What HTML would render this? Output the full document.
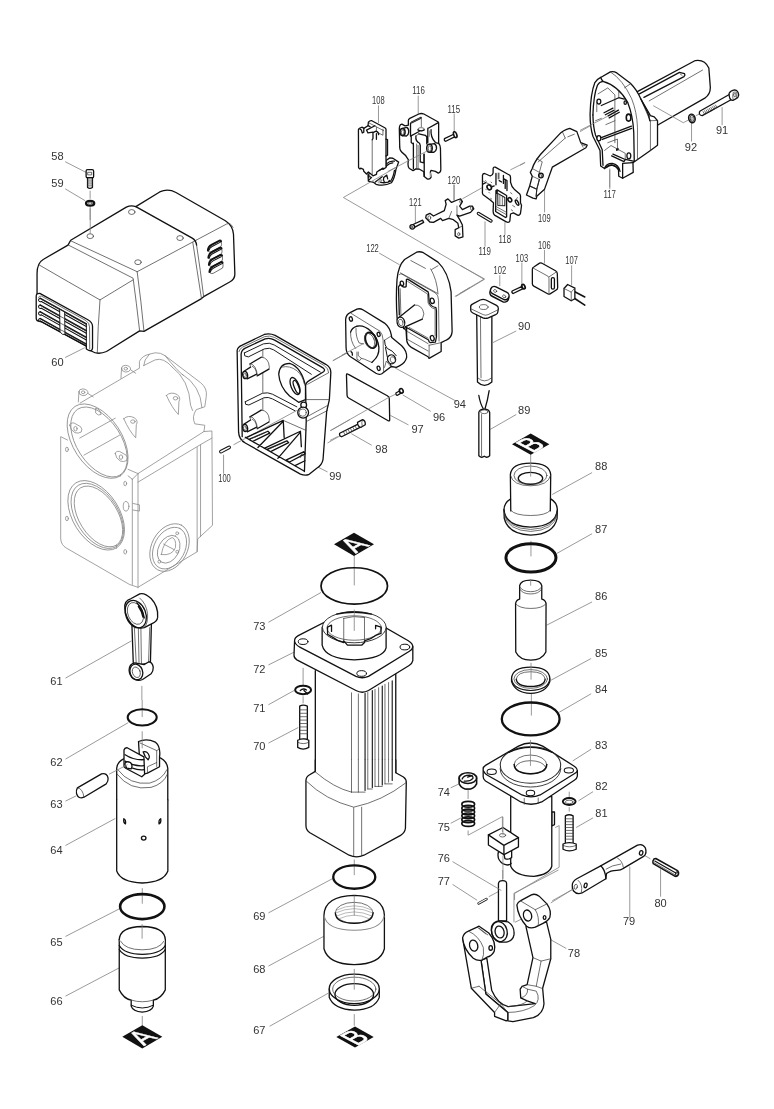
<!DOCTYPE html>
<html><head><meta charset="utf-8"><title>Parts diagram</title>
<style>
html,body{margin:0;padding:0;background:#fff}
svg{display:block;filter:grayscale(1)}
text{font-family:"Liberation Sans",sans-serif;font-size:10.4px;fill:#333}
.h{fill:none;stroke:#111;stroke-linecap:round;stroke-linejoin:round}
.hf{fill:#fff;stroke:#111;stroke-linecap:round;stroke-linejoin:round}
.t{fill:none;stroke:#333;stroke-linecap:round;stroke-linejoin:round}
.tf{fill:#fff;stroke:#333;stroke-linecap:round;stroke-linejoin:round}
.l{fill:none;stroke:#808080}
.p{fill:none;stroke:#8a8a8a;stroke-linecap:round;stroke-linejoin:round}
.pf{fill:#fff;stroke:#8a8a8a;stroke-linecap:round;stroke-linejoin:round}
.k{fill:#111;stroke:none}
</style></head><body>
<svg width="774" height="1109" viewBox="0 0 774 1109">
<rect width="774" height="1109" fill="#fff"/>
<!-- 02_housing.svg -->
<g transform="translate(30,340) scale(0.28424)">
<g class="p" stroke-width="2.815">
<!-- back block -->
<path d="M385,97 L385,75 Q395,55 420,50 L440,45 Q460,44 475,55 L600,150 Q625,170 620,200 L615,235 L585,245 Q568,270 580,295 L615,300 L612,322"/>
<path d="M500,95 Q560,140 565,230 L572,248 M535,120 Q600,160 605,238 M420,50 Q400,70 400,90 M475,55 Q520,110 540,125"/>
<!-- barrel -->
<path d="M176,222 L385,99 M400,90 L440,70 Q470,60 500,95"/>
<ellipse cx="238" cy="356" rx="146" ry="86" transform="rotate(57 238 356)"/>
<ellipse cx="243" cy="359" rx="138" ry="78" transform="rotate(57 243 359)"/>
<path d="M175,345 L300,275 M190,405 L315,335 M345,455 L380,470"/>
<!-- box -->
<path d="M132,352 L108,340 L108,700 Q110,722 128,732 L350,860 L380,870 L588,745 L590,700 L642,652 L640,320 L612,322 L380,470 L360,490"/>
<path d="M360,490 L360,860 M380,470 L380,872 M362,575 L385,580 L385,602 L362,598 M345,478 L360,490"/>
<path d="M380,500 L600,368 L600,692 M588,378 L588,745 M600,368 L640,345"/>
<!-- left opening -->
<ellipse cx="233" cy="617" rx="135" ry="82" transform="rotate(58 233 617)"/>
<ellipse cx="237" cy="619" rx="127" ry="75" transform="rotate(58 237 619)"/>
<ellipse cx="241" cy="621" rx="119" ry="68" transform="rotate(58 241 621)"/>
<!-- right round -->
<ellipse cx="491" cy="730" rx="89" ry="63" transform="rotate(-62 491 730)"/>
<ellipse cx="491" cy="732" rx="78" ry="54" transform="rotate(-62 491 732)"/>
<ellipse cx="488" cy="736" rx="52" ry="36" transform="rotate(-62 488 736)"/>
<path d="M462,755 Q470,705 500,695 Q515,700 512,730 Q500,760 462,755Z M470,718 L508,738"/>
<circle cx="518" cy="680" r="5"/><circle cx="518" cy="745" r="5"/><circle cx="455" cy="780" r="5"/>
<!-- small holes -->
<ellipse cx="130" cy="385" rx="5" ry="8"/><ellipse cx="130" cy="628" rx="5" ry="8"/><ellipse cx="335" cy="505" rx="5" ry="8"/><ellipse cx="335" cy="745" rx="5" ry="8"/><ellipse cx="338" cy="585" rx="10" ry="17"/>
<!-- lugs -->
<g id="lugA"><path d="M172,182 Q172,172 186,172 Q204,174 204,186 Q200,196 186,196 Q172,194 172,182Z M172,184 L170,218 M204,188 L222,200"/><ellipse cx="187" cy="184" rx="6" ry="5"/></g>
<use href="#lugA" x="150" y="-83"/>
<g id="lugB"><path d="M480,195 Q495,180 518,192 Q532,204 524,216 L522,262 Q500,240 480,195Z"/><ellipse cx="512" cy="205" rx="8" ry="6"/></g>
<use href="#lugB" x="-150" y="82"/>
<path d="M140,300 Q140,290 155,292 L178,305 Q186,314 180,324 Q170,330 158,326 Q142,318 140,300Z"/><ellipse cx="160" cy="312" rx="6" ry="8"/>
<path d="M300,400 Q300,390 315,392 L338,405 Q346,414 340,424 Q330,430 318,426 Q302,418 300,400Z"/><ellipse cx="320" cy="412" rx="6" ry="8"/>
<path d="M232,240 Q248,244 250,262 Q240,268 232,258Z"/>
</g>
</g>
<!-- 05_screw58.svg -->
<g transform="translate(40,140) scale(0.12920)">
<path class="l" stroke-width="6.192" d="M195,168 L355,250"/>
<path class="l" stroke-width="6.192" d="M195,378 L350,470"/>
<path class="l" stroke-width="6.192" d="M388,392 L388,455"/>
<path class="l" stroke-width="6.192" d="M388,515 L388,619"/>
<!-- screw -->
<path class="hf" stroke-width="10.062" d="M368,288 L368,368 Q386,380 406,368 L406,288Z"/>
<path class="t" stroke-width="5.418" d="M368,310 L406,310 M368,325 L406,325 M368,340 L406,340 M368,355 L406,355"/>
<path class="hf" stroke-width="10.062" d="M357,240 Q357,230 368,230 L404,230 Q415,230 415,240 L415,282 Q415,292 404,292 L368,292 Q357,292 357,282Z"/>
<path class="t" stroke-width="5.418" d="M372,250 L400,250 L400,270 L372,270Z"/>
<!-- washer -->
<ellipse cx="388" cy="490" rx="32" ry="19" fill="#fff" stroke="#111" stroke-width="17.028"/>
<ellipse class="t" stroke-width="5.418" cx="388" cy="489" rx="16" ry="8"/>
</g>
<!-- 10_cover.svg -->
<g transform="translate(30,180) scale(0.27132)">
<!-- centre line from washer to rivet hole -->
<!-- outer silhouette -->
<path class="hf" stroke-width="4.791" d="M26,345 Q26,305 50,292 L140,240 L150,222 L355,100 Q372,92 390,98 L478,44 Q508,30 538,46 L720,150 Q748,168 750,200 L755,345 Q756,366 736,376 L640,430 L632,437 L420,558 L404,556 L282,632 Q250,646 226,630 L214,620 L212,610 L26,510 Z"/>
<!-- inner edges -->
<path class="t" stroke-width="2.580" d="M32,312 Q140,375 258,442 L380,368"/>
<path class="t" stroke-width="2.580" d="M258,442 Q250,540 248,640"/>
<path class="t" stroke-width="2.580" d="M142,240 L380,362 Q392,450 404,556"/>
<path class="t" stroke-width="2.580" d="M150,224 L395,338 Q410,450 420,557"/>
<path class="t" stroke-width="2.580" d="M395,338 L612,222"/>
<path class="h" stroke-width="4.791" d="M390,98 L598,214 Q612,222 614,240"/>
<path class="t" stroke-width="2.580" d="M614,240 Q628,330 640,430"/>
<path class="t" stroke-width="2.580" d="M600,230 Q616,335 632,437"/>
<path class="t" stroke-width="2.580" d="M612,222 L725,162 Q740,156 748,175"/>
<!-- rivets -->
<ellipse class="tf" stroke-width="2.580" cx="375" cy="118" rx="12" ry="9"/>
<ellipse class="tf" stroke-width="2.580" cx="222" cy="207" rx="12" ry="9"/>
<ellipse class="tf" stroke-width="2.580" cx="553" cy="214" rx="12" ry="9"/>
<ellipse class="tf" stroke-width="2.580" cx="398" cy="303" rx="12" ry="9"/>
<path class="l" stroke-width="2.949" d="M222,105 L222,200"/>
</g>
<!-- 11_louvers.svg -->
<g transform="translate(190,225) scale(0.06460)">
<g transform="translate(462,245)">
<path d="M-185,150 Q-180,85 -130,62 L-5,-3 Q15,-8 18,10" fill="none" stroke="#111" stroke-width="30.960" stroke-linecap="round"/>
<path class="h" d="M-172,152 Q-160,108 -120,88 L2,24" stroke-width="15.480"/>
<path class="t" stroke-width="10.836" d="M-180,162 Q-160,180 -130,172 L18,88 Q32,62 24,28"/>
</g>
<g transform="translate(470,356)">
<path d="M-185,150 Q-180,85 -130,62 L-5,-3 Q15,-8 18,10" fill="none" stroke="#111" stroke-width="30.960" stroke-linecap="round"/>
<path class="h" d="M-172,152 Q-160,108 -120,88 L2,24" stroke-width="15.480"/>
<path class="t" stroke-width="10.836" d="M-180,162 Q-160,180 -130,172 L18,88 Q32,62 24,28"/>
</g>
<g transform="translate(478,467)">
<path d="M-185,150 Q-180,85 -130,62 L-5,-3 Q15,-8 18,10" fill="none" stroke="#111" stroke-width="30.960" stroke-linecap="round"/>
<path class="h" d="M-172,152 Q-160,108 -120,88 L2,24" stroke-width="15.480"/>
<path class="t" stroke-width="10.836" d="M-180,162 Q-160,180 -130,172 L18,88 Q32,62 24,28"/>
</g>
<g transform="translate(486,578)">
<path d="M-185,150 Q-180,85 -130,62 L-5,-3 Q15,-8 18,10" fill="none" stroke="#111" stroke-width="30.960" stroke-linecap="round"/>
<path class="h" d="M-172,152 Q-160,108 -120,88 L2,24" stroke-width="15.480"/>
<path class="t" stroke-width="10.836" d="M-180,162 Q-160,180 -130,172 L18,88 Q32,62 24,28"/>
</g>
</g>
<!-- 12_grille.svg -->
<g transform="translate(30,280) scale(0.10336)">
<path class="l" stroke-width="7.740" d="M340,750 L530,655"/>
<path class="hf" stroke-width="12.578" d="M60,160 Q58,128 95,130 L560,385 Q605,410 605,450 L605,660 Q600,692 570,682 L545,668 L545,640 L100,398 Q60,402 60,370Z"/>
<path class="t" stroke-width="6.772" d="M82,172 Q84,150 112,156 L540,392 Q576,416 576,452 L578,668"/>
<g fill="none" stroke="#111" stroke-linecap="round" stroke-width="14.513">
<path d="M100,178 L545,425 M100,243 L545,490 M100,308 L545,555 M100,373 L545,620"/>
</g>
<g class="h" stroke-width="9.675">
<path d="M110,208 L545,450 M110,273 L545,515 M110,338 L545,580 M100,398 L545,640"/>
<path d="M100,178 Q78,182 84,200 Q90,214 110,208 M100,243 Q78,247 84,265 Q90,279 110,273 M100,308 Q78,312 84,330 Q90,344 110,338 M100,373 Q78,377 84,395 Q90,409 110,403"/>
<path d="M545,425 L545,640"/>
</g>
<path class="t" stroke-width="6.772" d="M120,192 L540,428 M120,257 L540,493 M120,322 L540,558 M120,387 L540,623"/>
<path class="hf" d="M290,285 L335,310 L338,528 Q315,535 292,505Z" stroke-width="8.708"/>
<path class="t" stroke-width="6.772" d="M290,350 L336,375 M290,415 L336,440 M291,480 L337,502"/>
</g>
<!-- 20_switch.svg -->
<g transform="translate(350,110) scale(0.07660)">
<path class="l" stroke-width="10.444" d="M372,-60 L372,170"/>
<!-- lever -->
<path class="hf" stroke-width="16.971" d="M470,660 L520,625 L560,630 L635,680 L600,775 Q580,900 540,950 Q450,1000 340,970 L310,945 L240,930 L235,840 L470,740Z"/>
<path class="h" stroke-width="16.971" d="M480,700 Q520,660 580,668 M470,735 Q520,690 560,690 M580,790 Q565,880 530,930 Q460,960 400,945 M440,880 L480,850 L492,900 M440,880 Q430,920 450,945 M330,940 L420,870 M500,940 L515,920"/>
<path class="t" stroke-width="9.138" d="M350,930 L380,900 M370,945 L405,905 M385,955 L420,915"/>
<path class="k" d="M235,840 L292,880 L240,930Z"/>
<path d="M262,868 L250,900" stroke="#fff" stroke-width="10.444" fill="none"/>
<!-- body -->
<path class="hf" stroke-width="16.971" d="M110,255 Q115,235 135,232 L160,225 L180,240 L235,205 L240,160 Q260,135 285,140 L460,235 L470,250 L470,750 L430,775 L430,760 L380,790 L350,810 L345,840 L300,860 L290,850 L240,810 L215,835 L180,800 L175,775 L140,760 L130,770 L112,755Z"/>
<path class="t" stroke-width="9.138" d="M290,390 L290,850 M345,225 L345,285 L430,330 L430,250 M250,170 L440,270"/>
<path class="h" stroke-width="16.971" d="M180,240 L180,290 L160,300 M215,262 L325,205 M235,205 L262,216 M300,295 L340,275 Q370,280 375,322 M300,290 L300,372 L290,388 M345,310 L345,382 M215,262 L235,300 L300,290 M130,250 Q150,250 160,300 M380,790 L430,760"/>
<path class="h" stroke-width="16.971" d="M470,380 L490,386 L490,590 L470,600"/>
</g>
<!-- 21_bracket116.svg -->
<g transform="translate(395,105) scale(0.07214)">
<path class="l" stroke-width="11.089" d="M322,-130 L322,125"/>
<path class="hf" stroke-width="18.019" d="M185,215 Q185,195 205,185 L330,125 Q365,110 400,125 L600,235 L605,250 L605,530 Q630,560 630,600 L635,880 Q640,930 600,945 L560,920 L500,905 L490,930 L500,1000 Q480,1040 440,1020 L405,990 L400,925 L340,890 L290,885 L250,910 L200,880 Q180,860 180,820 L185,760 Q150,690 90,650 Q60,620 65,560 L60,330 Q60,270 95,265 L140,290 L185,280Z"/>
<path d="M222,238 L360,168 L364,184 L228,252Z" fill="#999" stroke="#111" stroke-width="12.475"/>
<path class="h" stroke-width="18.019" d="M215,250 L215,432 L335,368 M455,325 L600,245 M455,325 L455,520 M290,430 Q280,500 340,530 L350,560 L350,790 L400,802 L400,680 M330,400 L420,420 L440,440 L440,540 M255,530 L255,880 M405,680 L405,990 M500,340 Q490,450 560,520 L605,532 M225,440 L225,520 L255,545"/>
<path class="t" stroke-width="9.703" d="M300,540 L300,882 M365,170 L365,300 M330,400 L290,430 M320,560 L320,885"/>
<path d="M475,352 L475,440 M490,935 L492,1000" stroke="#999" stroke-width="19.405" fill="none"/>
<ellipse cx="362" cy="336" rx="45" ry="22" fill="#fff" stroke="#333" stroke-width="9.703"/>
<path class="h" stroke-width="18.019" d="M318,345 Q360,372 405,345"/>
<!-- left boss -->
<path class="hf" stroke-width="18.019" d="M105,325 L165,310 Q195,330 190,380 Q185,420 160,430 L105,425Z"/>
<ellipse class="hf" cx="105" cy="375" rx="35" ry="50" stroke-width="20.792"/>
<ellipse class="t" stroke-width="9.703" cx="108" cy="378" rx="20" ry="32"/>
<!-- right boss -->
<path class="hf" stroke-width="18.019" d="M480,545 L545,535 Q580,555 575,605 Q570,640 540,655 L480,655Z"/>
<ellipse class="hf" cx="478" cy="600" rx="38" ry="55" stroke-width="20.792"/>
<ellipse class="t" stroke-width="9.703" cx="482" cy="603" rx="22" ry="36"/>
<path class="l" stroke-width="11.089" d="M-100,922 L470,625"/>
</g>
<!-- 22_bracket120.svg -->
<g transform="translate(400,150) scale(0.18088)">
<path class="l" stroke-width="4.423" d="M298,190 L298,280 M85,310 L85,405 M580,400 L580,470 M470,395 L470,535 M345,270 L460,205 M610,110 L690,70"/>
<!-- 120 -->
<path class="hf" stroke-width="7.187" d="M145,360 L165,350 L185,365 L245,335 L255,300 L250,280 L265,270 L285,290 L320,275 L335,270 L345,285 L330,310 L345,330 L385,310 L400,310 L408,325 L390,345 L330,365 L315,360 L330,385 L345,415 L348,480 L325,487 L305,475 L305,440 L325,430 L320,405 L295,385 L270,378 L235,390 L225,378 L185,400 L165,398 L142,375Z"/>
<path class="t" stroke-width="3.870" d="M315,360 L315,310 M270,378 L285,340 M325,430 L345,420"/>
<ellipse class="t" stroke-width="3.870" cx="162" cy="375" rx="8" ry="11"/><ellipse class="t" stroke-width="3.870" cx="395" cy="322" rx="6" ry="9"/><ellipse class="t" stroke-width="3.870" cx="335" cy="285" rx="5" ry="8"/><ellipse class="t" stroke-width="3.870" cx="325" cy="465" rx="6" ry="9"/>
<!-- 121 -->
<path class="hf" stroke-width="7.187" d="M72,412 L125,388 L131,400 L80,428Z"/>
<ellipse class="hf" stroke-width="7.187" cx="68" cy="425" rx="13" ry="12"/>
<ellipse class="t" stroke-width="3.870" cx="66" cy="426" rx="5" ry="5"/>
</g>
<!-- 23_screw115.svg -->
<g transform="translate(340,90) scale(0.16796)">
<path class="l" stroke-width="4.763" d="M680,140 L680,245 M680,565 L680,655 M20,640 L330,463"/>
<path class="hf" stroke-width="7.740" d="M622,290 L680,262 L688,276 L630,305 Q618,304 622,290Z"/>
<ellipse class="hf" cx="686" cy="266" rx="9" ry="18" transform="rotate(-20 686 266)" stroke-width="9.526"/>
</g>
<!-- 24_trigger109.svg -->
<g transform="translate(520,100) scale(0.12920)">
<path class="l" stroke-width="6.192" d="M190,690 L190,870 M695,530 L695,690 M465,245 L665,130 M0,505 L40,483"/>
<path class="hf" stroke-width="10.062" d="M385,220 L440,245 L470,330 L520,350 L510,370 L250,520 L190,690 L130,745 L125,765 L100,760 L50,735 L75,665 L95,590 L80,560 L95,530 Q110,480 160,420 L300,270 Q335,232 385,220Z"/>
<path class="h" d="M75,665 L130,690 L125,745 M130,690 L150,615" stroke-width="8.514"/>
<path class="t" stroke-width="5.418" d="M350,295 L140,480 M130,455 L172,478 L150,560 M370,285 L420,265 M75,665 L130,690 L125,745 M95,590 L150,615 L130,690 M95,530 L150,560 M470,330 L488,365 M480,345 L505,355 M330,250 L350,295"/>
<circle class="hf" stroke-width="10.062" cx="162" cy="585" r="18"/>
<circle class="t" stroke-width="5.418" cx="160" cy="588" r="10"/>
</g>
<!-- 25_plate118.svg -->
<g transform="translate(475,160) scale(0.07106)">
<path class="hf" stroke-width="18.295" d="M105,215 Q110,190 135,190 L215,225 Q250,215 255,180 L255,120 Q260,95 285,100 L490,215 Q500,225 500,250 L500,310 Q510,370 560,420 L630,480 Q645,500 640,530 L640,600 L655,640 L640,750 Q630,785 600,775 L540,745 L500,760 L490,860 Q470,890 440,870 L275,775 Q255,755 255,720 L260,600 L210,560 L115,490 Q100,470 105,440Z"/>
<path class="h" stroke-width="18.295" d="M295,190 L295,350 M400,215 L400,330 M400,262 L450,288 L450,430 M340,290 L375,310 M425,290 L425,400"/>
<path d="M332,178 L332,272" stroke="#666" stroke-width="25.331" fill="none"/>
<path class="h" stroke-width="18.295" d="M295,430 L312,420 L445,500 L445,800 L430,810 L290,725Z M312,420 L312,470"/>
<path class="h" d="M320,470 L420,528 L420,645 L322,640Z" stroke-width="14.073"/>
<path class="t" stroke-width="9.851" d="M350,488 L350,640 M385,508 L385,642 M300,690 L435,765 M305,660 L440,735 M120,300 L240,360 M150,290 L160,300 M225,310 L235,320 M150,410 L160,420 M195,455 L205,465 M220,540 L235,550 M500,460 L520,475 M530,640 L560,660 M585,540 L600,530 M510,700 L530,715"/>
<ellipse class="hf" cx="200" cy="385" rx="28" ry="36" transform="rotate(-30 200 385)" stroke-width="22.516"/>
<ellipse class="hf" cx="490" cy="560" rx="24" ry="32" transform="rotate(-30 490 560)" stroke-width="22.516"/>
<ellipse class="hf" cx="592" cy="600" rx="17" ry="40" transform="rotate(-30 592 600)" stroke-width="19.702"/>
<path class="h" stroke-width="18.295" d="M110,340 L150,320 M235,380 L270,365"/>
<!-- pin 119 -->
<path d="M48,752 L225,858" stroke="#111" stroke-width="47.847" stroke-linecap="round" fill="none"/>
<path d="M48,752 L225,858" stroke="#fff" stroke-width="18.295" stroke-linecap="round" fill="none"/>
</g>
<!-- 26_handle117.svg -->
<g transform="translate(580,50) scale(0.25065)">
<path class="l" stroke-width="3.192" d="M567,228 L567,300 M445,290 L445,365 M462,262 L478,255"/>
<!-- grip -->
<path class="hf" stroke-width="5.187" d="M225,168 L460,42 Q498,36 514,72 L520,150 Q520,178 498,192 L300,305 L240,260Z"/>
<path class="h" stroke-width="5.187" d="M237,175 L397,89.5 L417,94 Q421,100 415,106 L255,189"/>
<path class="t" stroke-width="2.793" d="M276,203 L489,80 M400,96 L407,101"/>
<!-- leader to washer -->
<path class="l" stroke-width="3.192" d="M292,222 L412,290 L432,280"/>
</g>
<!-- 27_handlebody.svg -->
<g transform="translate(580,60) scale(0.12920)">
<path class="hf" stroke-width="10.062" d="M78,420 Q82,260 115,175 Q130,150 160,135 L235,92 Q260,85 285,100 L390,180 Q440,230 470,300 L545,430 L575,440 L600,470 L600,660 L545,700 L410,795 L412,870 L330,915 L300,900 L298,850 Q270,800 215,820 L190,840 L160,820 L155,700 L100,590 Q78,520 78,420Z"/>
<!-- rim inner edges -->
<path class="h" stroke-width="10.062" d="M100,425 Q105,270 135,195 Q150,168 178,165 Q300,200 370,330 Q410,430 416,560 L420,785"/>
<path class="h" stroke-width="10.062" d="M160,135 Q165,150 178,165 M100,425 Q102,520 120,580 L172,695 L178,815"/>
<path class="t" stroke-width="5.418" d="M235,92 Q330,150 400,300 Q440,400 445,520 L445,770 M345,215 L392,183 M470,300 L530,440 L545,470 L545,700 M530,440 L545,430 M545,470 L598,468"/>
<path class="h" stroke-width="10.062" d="M470,300 Q500,360 520,400 Q535,430 540,470"/>
<!-- ribs -->
<path class="h" stroke-width="10.062" d="M165,352 L300,292 L342,302 M165,600 L398,512 M172,615 L400,530 M245,742 L340,786 L352,770 M255,728 L350,770"/>
<g fill="none" stroke="#111" stroke-linecap="round" stroke-width="10.062"><path d="M186,408 L255,372 M196,424 L262,390 M218,432 L298,388 M226,448 L304,404"/></g>
<path class="k" d="M278,686 L298,680 L300,698 L280,704Z"/>
<path class="t" stroke-width="5.418" d="M140,262 L215,216 L270,270 L270,640 M200,500 L270,470 M215,640 L290,612 L290,680 M190,700 L240,662 L350,722 L350,760 M300,292 L300,240 M120,470 L165,452 M130,330 L130,400"/>
<!-- bosses -->
<ellipse class="hf" stroke-width="10.062" cx="146" cy="322" rx="15" ry="19"/><ellipse class="hf" stroke-width="10.062" cx="146" cy="606" rx="15" ry="20"/>
<ellipse class="hf" cx="376" cy="446" rx="18" ry="27" stroke-width="12.384"/><ellipse class="hf" stroke-width="10.062" cx="378" cy="742" rx="15" ry="23"/><ellipse class="hf" stroke-width="10.062" cx="350" cy="330" rx="9" ry="14"/>
<!-- bottom arc and tab -->
<path class="h" stroke-width="10.062" d="M190,840 Q200,800 250,800 Q300,810 310,862 M205,832 Q250,790 302,850 M330,800 L330,915 M330,800 L410,795 M352,770 L420,785"/>
<path class="l" stroke-width="6.192" d="M230,850 L230,985 M0,545 L215,435"/>
</g>
<!-- 28_screw91.svg -->
<g transform="translate(670,80) scale(0.10336)">
<!-- washer 92 -->
<ellipse cx="212" cy="372" rx="31" ry="42" fill="#fff" stroke="#111" stroke-width="14.513" transform="rotate(-12 212 372)"/>
<ellipse cx="214" cy="372" rx="20" ry="29" fill="none" stroke="#222" stroke-width="8.708" transform="rotate(-12 214 372)"/>
<ellipse cx="214" cy="372" rx="9" ry="15" fill="none" stroke="#555" stroke-width="5.805" transform="rotate(-12 214 372)"/>
<!-- screw 91 -->
<path class="hf" stroke-width="12.578" d="M292,300 L582,136 L604,184 L312,344 Q290,345 284,325 Q282,308 292,300Z"/>
<path class="t" stroke-width="6.772" d="M320,306 L335,332 M335,298 L350,324 M350,290 L365,316 M365,282 L380,308 M380,274 L395,300 M395,266 L410,292 M410,258 L425,284 M425,250 L440,276 M440,242 L455,268"/>
<path class="hf" stroke-width="12.578" d="M572,128 Q588,100 625,95 Q660,100 665,145 Q662,170 640,180 L612,196 Q590,200 580,180 Q570,150 572,128Z"/>
<path class="t" stroke-width="6.772" d="M612,196 Q600,160 612,120 Q630,112 645,120 Q655,140 640,180 M618,135 L635,130 L640,155 L624,162Z"/>
</g>
<!-- 30_case99.svg -->
<g transform="translate(210,320) scale(0.18088)">
<path class="l" stroke-width="4.423" d="M75,745 L75,850 M590,810 L650,840 M680,225 L774,170 M670,610 L774,550 M650,680 L720,640"/>
<path class="hf" stroke-width="7.187" d="M150,170 Q152,150 175,140 L300,80 Q330,72 360,85 L640,245 Q668,262 668,290 L660,440 L645,505 L625,770 Q620,800 590,820 L545,855 Q525,862 500,852 L195,680 Q160,660 158,620Z"/>
<path class="h" stroke-width="7.187" d="M178,645 L172,188 Q175,165 195,156 L305,104 Q332,96 355,110 L625,265 Q640,276 628,286 L548,335 Q528,346 528,368 L532,560 L522,838"/>
<path class="h" stroke-width="5.252" d="M190,182 L295,132 Q330,122 355,138 L610,288 M190,182 L192,198 L212,204 L300,160 Q330,150 352,165 L560,300"/>
<path class="h" stroke-width="5.252" d="M195,452 L290,405 Q320,398 345,410 L480,480 M195,452 L197,466 L215,470 L298,430 Q322,424 345,436 L470,502"/>
<path class="t" stroke-width="3.870" d="M160,175 Q162,160 180,150 L302,92 Q330,84 356,96 L632,252 Q655,268 656,290 M292,165 L292,400 M292,435 L292,520 M540,355 L655,292 M535,560 L650,500 M545,530 L655,470 M530,440 L660,440"/>
<!-- round boss with slot -->
<path class="hf" stroke-width="7.187" d="M528,365 Q505,260 440,240 Q385,240 380,300 Q385,370 440,420 L490,455 L528,440Z"/>
<path class="t" stroke-width="3.870" d="M400,260 Q440,250 480,280 Q515,310 520,350"/>
<ellipse class="hf" stroke-width="7.187" cx="470" cy="365" rx="22" ry="50" transform="rotate(-22 470 365)"/>
<ellipse class="h" stroke-width="7.187" cx="478" cy="370" rx="12" ry="38" transform="rotate(-22 478 370)"/>
<!-- small round boss -->
<path class="l" stroke-width="4.423" d="M130,690 L480,500"/>
<circle class="hf" stroke-width="7.187" cx="518" cy="470" r="16"/>
<circle class="hf" stroke-width="7.187" cx="515" cy="512" r="30"/><circle class="t" stroke-width="3.870" cx="512" cy="512" r="20"/>
<!-- bottom ribs -->
<path class="h" stroke-width="7.187" d="M200,650 L405,555 L410,650 M300,710 L500,615 L505,700 M265,705 L405,560 M375,765 L500,620 M215,660 L320,615 L330,625 L235,672Z M315,715 L425,668 L435,678 L335,728Z M420,775 L520,728 L525,740 L440,785Z M470,805 L525,778 M195,648 L520,835"/>
<path class="t" stroke-width="3.870" d="M405,555 L530,610 M230,655 L300,625 M330,712 L410,675 M500,760 Q495,745 510,740 Q525,745 522,770"/>
<!-- pin 100 -->
<path d="M60,728 L106,704" stroke="#111" stroke-width="19.903" stroke-linecap="round" fill="none"/>
<path d="M60,728 L106,704" stroke="#fff" stroke-width="8.846" stroke-linecap="round" fill="none"/>
</g>
<!-- 31_bosses99.svg -->
<g transform="translate(235,340) scale(0.09044)">
<g transform="translate(0,0)">
<path d="M165,265 L290,190 Q372,192 380,300 L375,322 L245,396 L240,378 L135,430 Q100,432 88,395 Q80,360 100,345 L172,300Z" fill="#fff"/>
<path class="h" stroke-width="14.374" d="M165,265 L290,190 M245,396 L375,322 M100,345 L172,300 M135,430 L240,378"/>
<path class="t" stroke-width="7.740" d="M290,190 Q372,192 380,300 L375,322 M172,262 Q235,275 248,392 M190,290 Q232,305 240,378 M165,265 L172,300"/>
<ellipse class="hf" stroke-width="14.374" cx="112" cy="387" rx="27" ry="40" transform="rotate(-12 112 387)"/>
<ellipse class="t" stroke-width="7.740" cx="110" cy="390" rx="15" ry="24" transform="rotate(-12 110 390)"/>
</g>
<g transform="translate(0,585)">
<path d="M165,265 L290,190 Q372,192 380,300 L375,322 L245,396 L240,378 L135,430 Q100,432 88,395 Q80,360 100,345 L172,300Z" fill="#fff"/>
<path class="h" stroke-width="14.374" d="M165,265 L290,190 M245,396 L375,322 M100,345 L172,300 M135,430 L240,378"/>
<path class="t" stroke-width="7.740" d="M290,190 Q372,192 380,300 L375,322 M172,262 Q235,275 248,392 M190,290 Q232,305 240,378 M165,265 L172,300"/>
<ellipse class="hf" stroke-width="14.374" cx="112" cy="387" rx="27" ry="40" transform="rotate(-12 112 387)"/>
<ellipse class="t" stroke-width="7.740" cx="110" cy="390" rx="15" ry="24" transform="rotate(-12 110 390)"/>
</g>
</g>
<!-- 32_cap122.svg -->
<g transform="translate(330,235) scale(0.18088)">
<path class="l" stroke-width="4.423" d="M272,100 L385,165 M15,695 L185,605 M360,735 L700,920 M774,290 L690,340"/>
</g>
<!-- 33_cap122b.svg -->
<g transform="translate(392,248) scale(0.10457)">
<path class="hf" stroke-width="12.431" d="M48,300 Q60,170 120,110 L235,40 Q265,30 300,45 L440,135 Q540,230 565,420 L575,800 Q570,860 520,880 L470,905 L470,990 L355,1055 L345,1040 L185,950 Q140,920 140,870 L135,790 L100,750 L50,690 Q35,500 48,300Z"/>
<path class="t" stroke-width="6.694" d="M70,255 Q75,240 95,250 L415,430 Q445,450 445,500 L450,890 M82,238 L432,432 M370,200 Q430,300 440,440 M180,120 L320,195 M380,205 L440,170 M150,800 L345,915 M355,930 L355,1055 M355,930 L470,905 M140,870 L345,985"/>
<path class="h" stroke-width="12.431" d="M62,372 L80,345 Q100,385 135,370 L138,300 L150,298 L345,420 L350,440 L355,520 Q370,560 420,570 L425,600 L425,850 L415,900 L365,905 Q350,900 350,880 L140,760 L110,770 M62,372 L70,640 M140,760 L140,870"/>
<path class="t" stroke-width="6.694" d="M150,320 L340,440 L345,525 Q365,575 412,582 L412,840 M78,390 L85,640 M165,760 L345,862"/>
<ellipse class="hf" stroke-width="12.431" cx="95" cy="338" rx="16" ry="22" transform="rotate(-15 95 338)"/>
<ellipse class="hf" stroke-width="12.431" cx="385" cy="505" rx="19" ry="26" transform="rotate(-15 385 505)"/>
<ellipse class="hf" stroke-width="12.431" cx="385" cy="862" rx="18" ry="26" transform="rotate(-15 385 862)"/>
<!-- boss -->
<path d="M60,670 L215,545 Q290,540 305,630 L290,680 L125,755Z" fill="#fff"/>
<path class="h" stroke-width="12.431" d="M60,670 L215,545 M125,755 L290,680"/>
<path class="t" stroke-width="6.694" d="M215,545 Q290,540 305,630 L290,680"/>
<ellipse class="hf" stroke-width="12.431" cx="85" cy="710" rx="36" ry="50" transform="rotate(-15 85 710)"/>
<ellipse class="t" stroke-width="6.694" cx="84" cy="712" rx="21" ry="32" transform="rotate(-15 84 712)"/>
</g>
<!-- 33_flange94.svg -->
<g transform="translate(342,305) scale(0.09044)">
<path class="hf" stroke-width="14.374" d="M40,160 Q45,105 90,85 L165,45 Q200,35 235,55 L470,200 Q530,250 545,330 L550,360 L660,450 Q720,510 715,580 Q700,640 640,670 L600,690 L545,680 L440,760 Q410,775 375,755 L90,570 Q45,535 45,470Z"/>
<path class="t" stroke-width="7.740" d="M100,92 L420,290 Q450,320 455,390 L460,745 M470,390 L540,345 M95,300 Q90,400 150,480 M155,260 Q150,350 190,420 L240,430 M470,690 L490,620 L540,680 M330,635 L250,600 L215,590 M165,520 L165,600 L195,615 L215,590 L180,560 L180,520"/>
<path class="h" stroke-width="14.374" d="M95,300 Q110,250 160,235 Q240,215 320,290 Q400,370 408,470 Q412,560 350,615 L330,635"/>
<path class="h" d="M470,390 Q470,450 500,480 Q560,500 600,560 M480,470 Q490,580 545,680" stroke-width="11.057"/>
<ellipse cx="320" cy="390" rx="58" ry="90" fill="#fff" stroke="#111" stroke-width="21.009" transform="rotate(-22 320 390)"/>
<ellipse class="t" stroke-width="7.740" cx="305" cy="395" rx="52" ry="84" transform="rotate(-22 305 395)"/>
<ellipse class="hf" stroke-width="14.374" cx="98" cy="155" rx="17" ry="25" transform="rotate(-15 98 155)"/>
<ellipse class="hf" stroke-width="14.374" cx="405" cy="325" rx="16" ry="24" transform="rotate(-15 405 325)"/>
<ellipse class="hf" stroke-width="14.374" cx="405" cy="700" rx="16" ry="25" transform="rotate(-15 405 700)"/>
<path class="h" stroke-width="14.374" d="M100,515 Q118,525 115,555"/>
<ellipse class="hf" stroke-width="14.374" cx="548" cy="600" rx="44" ry="50" transform="rotate(-20 548 600)"/>
<ellipse class="t" stroke-width="7.740" cx="562" cy="606" rx="28" ry="35" transform="rotate(-20 562 606)"/>
<path class="l" stroke-width="8.846" d="M0,555 L240,425"/>
</g>
<!-- 34_gasket97.svg -->
<g transform="translate(330,360) scale(0.19380)">
<path class="hf" stroke-width="6.708" d="M85,78 Q85,68 95,74 L298,186 Q306,190 306,200 L308,308 Q308,318 298,312 L96,196 Q88,192 88,182Z"/>
<path class="l" stroke-width="4.128" d="M375,180 L520,265 M310,285 L405,335 M110,380 L215,440 M0,365 L300,195 L335,178 M0,415 L40,395"/>
<!-- 96 -->
<path class="hf" stroke-width="6.708" d="M340,170 L358,160 L364,172 L346,183 Q338,180 340,170Z"/>
<ellipse class="hf" cx="368" cy="159" rx="9" ry="12" transform="rotate(-25 368 159)" stroke-width="8.256"/>
<!-- 98 -->
<path class="hf" stroke-width="6.708" d="M50,378 L150,328 L160,345 L60,396 Q46,392 50,378Z"/>
<path class="t" stroke-width="3.612" d="M70,372 L78,386 M82,366 L90,380 M94,360 L102,374 M106,354 L114,368 M118,348 L126,362 M130,342 L138,356"/>
<path class="hf" stroke-width="6.708" d="M142,322 L168,308 Q184,314 182,334 L158,348 Q142,342 142,322Z"/>
<path class="t" stroke-width="3.612" d="M168,308 Q160,320 166,342"/>
</g>
<!-- 36_small102.svg -->
<g transform="translate(460,240) scale(0.18088)">
<path class="l" stroke-width="4.423" d="M220,195 L220,255 M342,125 L342,245 M467,55 L467,130 M617,140 L617,250 M0,140 L135,215 L0,295"/>
<!-- 102 -->
<g transform="rotate(27 218 297)"><rect class="hf" x="166" y="282" width="110" height="46" rx="23" stroke-width="8.846"/><rect class="hf" x="163" y="272" width="110" height="42" rx="21" stroke-width="7.740"/><ellipse class="t" stroke-width="3.870" cx="190" cy="294" rx="9" ry="7"/><ellipse class="t" stroke-width="3.870" cx="248" cy="298" rx="9" ry="7"/></g>
<!-- 103 -->
<path class="hf" stroke-width="7.187" d="M288,282 L340,258 L346,270 L294,296 Q284,292 288,282Z"/>
<ellipse class="hf" cx="351" cy="258" rx="8" ry="13" transform="rotate(-25 351 258)" stroke-width="9.951"/>
<!-- 106 -->
<path class="hf" stroke-width="7.187" d="M400,162 Q400,152 410,148 L440,128 Q448,124 456,130 L528,170 Q538,176 538,186 L540,262 Q540,272 532,276 L498,298 Q490,302 482,296 L408,255 Q400,250 400,242Z"/>
<path class="t" stroke-width="3.870" d="M404,155 L486,200 Q492,204 492,214 L492,298 M492,204 L534,176"/>
<rect class="hf" stroke-width="7.187" x="505" y="208" width="17" height="64" rx="8"/>
<!-- 107 -->
<path class="h" d="M632,285 L690,315 M632,322 L690,360" stroke-width="8.846"/>
<path class="hf" stroke-width="7.187" d="M575,268 L595,246 L635,266 L635,325 L615,336 L575,312Z"/>
<path class="t" stroke-width="3.870" d="M575,268 L615,288 L615,336 M615,288 L635,266"/>
</g>
<!-- 38_pin90.svg -->
<g transform="translate(430,230) scale(0.27132)">
<path class="l" stroke-width="2.949" d="M232,415 L318,372 M222,735 L318,680"/>
<!-- 90 body -->
<path class="hf" stroke-width="4.791" d="M172,300 L175,560 Q200,585 228,560 L228,300Z"/>
<path class="t" stroke-width="2.580" d="M176,545 Q200,568 227,545 M186,320 L188,545"/>
<!-- 90 head -->
<path class="hf" stroke-width="4.791" d="M150,285 Q148,276 158,272 L185,258 Q196,254 206,258 L245,278 Q252,282 252,290 L250,302 Q250,308 242,312 L215,324 Q205,328 195,324 L158,306 Q150,302 150,296Z"/>
<path class="t" stroke-width="2.580" d="M150,290 L196,312 Q205,316 214,312 L251,294"/>
<ellipse class="tf" stroke-width="2.580" cx="198" cy="284" rx="16" ry="9"/>
<!-- wires -->
<path class="h" stroke-width="4.791" d="M180,610 Q185,640 196,658 M218,592 Q212,630 203,658"/>
<!-- 89 tube -->
<path class="hf" stroke-width="4.791" d="M180,672 Q182,660 200,660 Q218,660 220,672 L220,832 Q210,842 200,834 Q190,842 180,832Z"/>
<ellipse class="t" stroke-width="2.580" cx="200" cy="670" rx="14" ry="7"/>
<path class="t" stroke-width="2.580" d="M190,680 L190,832"/>
</g>
<!-- 40_rod61.svg -->
<g transform="translate(90,585) scale(0.14212)">
<path class="l" stroke-width="5.629" d="M365,710 L365,809"/>
<!-- shaft -->
<path class="hf" stroke-width="9.147" d="M295,280 L305,565 L425,550 L432,270Z"/>
<path class="t" stroke-width="4.925" d="M312,295 L325,548 M340,300 L345,555 M358,300 L362,560 M420,300 L412,545"/>
<!-- small end -->
<path class="hf" stroke-width="9.147" d="M275,600 Q275,555 315,548 L380,560 L415,540 Q440,545 445,580 Q445,610 430,625 L370,665 Q335,680 305,660 Q278,640 275,600Z"/>
<ellipse class="h" stroke-width="9.147" cx="326" cy="612" rx="44" ry="56" transform="rotate(-20 326 612)"/>
<ellipse class="t" stroke-width="4.925" cx="326" cy="614" rx="27" ry="38" transform="rotate(-20 326 614)"/>
<!-- big end -->
<path class="hf" stroke-width="9.147" d="M245,165 Q238,110 290,95 L350,62 Q385,52 430,95 Q482,150 476,228 Q472,256 440,270 L382,300 Q330,312 290,272 Q250,225 245,165Z"/>
<ellipse class="h" stroke-width="9.147" cx="322" cy="205" rx="70" ry="100" transform="rotate(-22 322 205)"/>
<ellipse class="t" stroke-width="4.925" cx="320" cy="200" rx="53" ry="80" transform="rotate(-22 320 200)"/>
<path class="h" stroke-width="9.147" d="M330,125 Q372,170 382,232 M340,150 Q365,185 372,225"/>
<path class="t" stroke-width="4.925" d="M382,300 Q410,270 405,200 Q395,130 350,92"/>
</g>
<!-- 42_piston64top.svg -->
<g transform="translate(70,700) scale(0.14212)">
<path class="l" stroke-width="5.629" d="M508,0 L508,120"/>
<ellipse cx="508" cy="122" rx="102" ry="57" fill="none" stroke="#111" stroke-width="14.776"/>
<!-- piston body top -->
<path class="hf" stroke-width="9.147" d="M328.5,704 L328.5,480 Q334,425 400,405 L620,400 Q682,425 688,480 L688,704"/>
<path class="t" stroke-width="4.925" d="M338,492 Q420,600 560,585 Q650,560 682,490 M330,520 Q420,640 570,615 Q660,590 686,520"/>
<!-- right prong -->
<path class="hf" stroke-width="9.147" d="M482,292 Q540,268 600,296 Q640,330 630,400 L630,470 L545,515 L525,520 L490,420Z"/>
<path class="t" stroke-width="4.925" d="M492,302 L610,356 L610,468 M610,356 L630,345 M545,515 L545,470 L610,440"/>
<path class="hf" stroke-width="9.147" d="M515,365 Q545,355 558,395 Q560,410 550,420 L530,400Z"/>
<!-- left prong -->
<path class="hf" stroke-width="9.147" d="M380,352 Q385,334 402,336 L520,400 L525,522 L505,540 L395,482 L380,470Z"/>
<path class="h" stroke-width="9.147" d="M388,385 Q450,425 520,420 M388,430 Q450,470 520,462 M440,480 Q480,495 522,490"/>
<path class="hf" stroke-width="9.147" d="M385,450 Q395,425 425,440 Q445,460 430,485 L400,480Z"/>
<path class="l" stroke-width="5.629" d="M508,220 L508,340 M275,522 L405,455"/>
<!-- pin 63 -->
<path class="hf" stroke-width="9.147" d="M52,618 L222,520 Q262,512 268,550 Q270,575 255,590 L98,684 Q60,700 46,660 Q42,632 52,618Z"/>
<path class="t" stroke-width="4.925" d="M52,618 Q90,620 98,684"/>
</g>
<!-- 44_piston64.svg -->
<g transform="translate(30,800) scale(0.28424)">
<path class="l" stroke-width="2.815" d="M125,160 L300,65 M125,480 L320,380 M125,690 L315,590 M395,310 L395,365 M395,760 L395,800"/>
<!-- 64 body lower -->
<path class="hf" stroke-width="4.574" d="M305,0 L305,250 Q320,290 395,292 Q470,290 485,250 L485,0"/>
<path class="hf" stroke-width="4.574" d="M330,66 Q338,70 336,84 Q328,80 330,66Z M460,66 Q452,70 454,84 Q462,80 460,66Z" />
<ellipse class="hf" stroke-width="4.574" cx="400" cy="134" rx="8" ry="7"/>
<!-- 65 o-ring -->
<ellipse cx="395" cy="375" rx="78" ry="44" fill="none" stroke="#111" stroke-width="9.147"/>
<!-- 66 -->
<path class="hf" stroke-width="4.574" d="M314,490 L314,668 Q330,700 356,704 L356,725 Q362,744 395,746 Q428,744 434,725 L434,704 Q462,698 476,668 L476,490Z"/>
<ellipse cx="395" cy="488" rx="81" ry="43" fill="#fff" stroke="none"/>
<path class="h" stroke-width="4.574" d="M314,492 Q316,446 395,445 Q474,446 476,492"/>
<path class="t" stroke-width="2.463" d="M318,496 Q335,527 395,527 Q455,527 472,496"/>
<path class="h" stroke-width="4.574" d="M314,512 Q332,543 395,543 Q458,543 476,512 M314,526 Q332,556 395,556 Q458,556 476,526"/>
<path class="t" stroke-width="2.463" d="M356,704 Q395,716 434,704"/>
<path class="h" d="M356,722 Q395,742 434,722" stroke-width="3.518"/>
<path class="l" stroke-width="2.815" d="M394.4,437 L394.4,488"/>
</g>
<!-- 50_cyl72top.svg -->
<g transform="translate(240,520) scale(0.28424)">
<path class="l" stroke-width="2.815" d="M100,360 L285,255 M100,510 L190,465 M100,650 L190,600 M100,785 L205,730 M402,125 L402,230 M222,520 L222,585 M222,620 L222,645"/>
<!-- o-ring 73 -->
<ellipse cx="402" cy="232" rx="117" ry="64" fill="none" stroke="#111" stroke-width="5.981"/>
<!-- body below flange -->
<path d="M265,530 L265,920 L548,920 L548,530Z" fill="#fff"/><path class="h" stroke-width="4.574" d="M265,530 L265,920 M548,530 L548,920"/>
<path class="t" stroke-width="2.463" d="M392.3,608 L392.3,920 M416.5,612 L416.5,920 M449.6,606 L449.6,920 M475,596 L475,920 M487.7,590 L487.7,920 M510,578 L510,920 M522.7,572 L522.7,920"/>
<path class="h" d="M440,610 L440,920 M465.5,600 L465.5,920 M500.5,584 L500.5,920 M535.5,566 L535.5,920" stroke-width="3.870"/>
<!-- flange -->
<path class="hf" stroke-width="4.574" d="M192,425 Q192,414 205,407 L345,335 Q380,318 420,326 L592,425 Q610,436 608,450 L608,495 Q606,505 595,512 L452,600 Q430,612 408,600 L200,492 Q190,486 190,476Z"/>
<path class="h" stroke-width="4.574" d="M192,428 Q196,440 212,448 L408,550 Q430,560 452,550 L596,462 Q606,456 608,446"/>
<ellipse class="hf" cx="222" cy="428" rx="17" ry="10" stroke-width="3.518"/><ellipse class="hf" cx="580" cy="447" rx="17" ry="10" stroke-width="3.518"/><ellipse class="hf" cx="428" cy="540" rx="17" ry="10" stroke-width="3.518"/>
<!-- boss -->
<path class="hf" stroke-width="4.574" d="M289,377 L289,440 Q300,488 402,492 Q505,488 514,450 L514,377Z"/>
<ellipse cx="402" cy="377" rx="112" ry="55" fill="#fff" stroke="#222" stroke-width="3.166"/>
<path class="h" stroke-width="4.574" d="M340,331 Q400,318 462,331"/>
<ellipse class="t" stroke-width="2.463" cx="402" cy="380" rx="96" ry="43"/>
<path class="h" stroke-width="4.574" d="M308,377 L308,402 L325,412 Q345,428 365,431 L365,425 L378,440 L429,440 L438,431 L438,425 Q460,420 477,406 L496,399 L496,377 L477,371 L477,383 M308,377 L322,370 L322,392"/>
<path class="t" stroke-width="2.463" d="M365,346 L365,425 M438,343 L438,425 M365,346 Q400,335 438,343"/>
<path class="l" stroke-width="2.815" d="M402,315 L402,390"/>
<!-- washer 71 -->
<ellipse cx="222" cy="598" rx="28" ry="15" fill="#fff" stroke="#111" stroke-width="7.036"/>
<path class="h" stroke-width="4.574" d="M212,600 Q222,590 234,598 M225,600 L238,612"/>
<!-- screw 70 -->
<path class="hf" stroke-width="4.574" d="M210,655 Q222,648 237,655 L237,772 L210,772Z"/>
<path class="t" stroke-width="2.463" d="M210,668 L237,668 M210,680 L237,680 M210,692 L237,692 M210,704 L237,704 M210,716 L237,716 M210,728 L237,728 M210,740 L237,740 M210,752 L237,752"/>
<path class="hf" stroke-width="4.574" d="M203,775 Q222,765 242,775 L242,800 Q222,812 203,800Z"/>
<path class="t" stroke-width="2.463" d="M203,782 Q222,792 242,782"/>
</g>
<!-- 52_cyl72low.svg -->
<g transform="translate(240,760) scale(0.28424)">
<path class="l" stroke-width="2.815" d="M100,538 L330,415 M100,725 L295,620 M402,350 L402,405 M402,894 L402,935"/>
<path d="M265,0 L265,80 L548,80 L548,0Z" fill="#fff"/>
<path class="h" stroke-width="4.574" d="M265,0 L265,45 M548,0 L548,48"/>
<path d="M232,72 Q232,60 245,52 L265,40 Q330,100 400,112 Q480,100 548,45 L575,60 Q586,68 585,80 L582,240 Q580,256 565,265 L436,335 Q410,346 384,335 L246,256 Q232,246 232,230Z" fill="#fff"/>
<path class="h" stroke-width="4.574" d="M265,40 L245,52 Q232,60 232,72 L232,230 Q232,246 246,256 L384,335 Q410,346 436,335 L565,265 Q580,256 582,240 L585,80 Q586,68 575,60 L548,45"/>
<path class="t" stroke-width="2.463" d="M265,42 Q330,98 392,113"/>
<path class="t" stroke-width="2.463" d="M392.3,0 L392.3,113 M416.5,0 L416.5,113 M449.6,0 L449.6,102 M475,0 L475,93 M487.7,0 L487.7,93 M510,0 L510,84 M522.7,0 L522.7,78 M392.3,113 L440,113 M449.6,102 L465.5,102 M475,93 L500.5,93 M510,84 L535.5,84"/>
<path class="h" d="M440,0 L440,107 M465.5,0 L465.5,97 M500.5,0 L500.5,88 M535.5,0 L535.5,72" stroke-width="3.870"/>
<path class="t" stroke-width="2.463" d="M234,75 Q300,140 400,166 Q500,145 584,80 M400,168 L400,338 M428,166 L428,336"/>
<!-- o-ring 69 -->
<ellipse cx="402" cy="412" rx="74" ry="41" fill="none" stroke="#111" stroke-width="8.092"/>
<!-- 68 -->
<path class="hf" stroke-width="4.574" d="M295.4,546 L295.4,664 Q310,718 402,720 Q495,718 508,664 L508,546 Q505,478 402,476 Q298,478 295.4,546Z"/>
<path d="M296,548 Q305,598 402,599 Q498,598 507.5,548" fill="none" stroke="#8a8a8a" stroke-width="3.870"/>
<ellipse class="t" stroke-width="2.463" cx="401.8" cy="537.5" rx="66.5" ry="36.8" stroke="#777"/>
<path d="M340,528 Q402,498 464,528 M337,538 Q402,508 467,538 M340,549 Q402,520 464,549 M348,559 Q402,533 456,559" fill="none" stroke="#999" stroke-width="2.463"/>
<path class="h" stroke-width="4.574" d="M335.3,537.5 Q336,574 401.8,574.3 Q467,574 468.3,537.5"/>
<path class="l" stroke-width="2.815" d="M402,477 L402,548"/>
<!-- 67 -->
<path class="hf" stroke-width="4.574" d="M314,805 L314,835 Q330,878 402,880 Q475,878 490,835 L490,805Z"/>
<ellipse class="hf" stroke-width="4.574" cx="402" cy="805" rx="88" ry="52"/>
<ellipse class="t" stroke-width="2.463" cx="402" cy="806" rx="76" ry="42"/>
<ellipse class="h" stroke-width="4.574" cx="402" cy="825" rx="68" ry="38"/>
<path class="l" stroke-width="2.815" d="M402,735 L402,808"/>
</g>
<!-- 60_sleeve88.svg -->
<g transform="translate(440,420) scale(0.28424)">
<path class="l" stroke-width="2.815" d="M395,262 L535,185 M410,470 L535,400 M375,722 L535,640 M320,425 L320,480"/>
<!-- 88 flange -->
<path class="hf" stroke-width="4.574" d="M225,315 L226,346 Q240,402 319,405 Q400,402 412,346 L413,315 Q410,264 319,263 Q228,264 225,315Z"/>
<path class="h" stroke-width="4.574" d="M225,315 Q230,374 319,377 Q408,374 413,315"/>
<path class="t" stroke-width="2.463" d="M226,326 Q236,382 319,385 Q402,382 412,326 M226,334 Q238,389 319,392 Q400,389 412,334"/>
<!-- 88 tube -->
<path d="M247.5,192 L249,320 Q265,336 319,336 Q373,336 388,320 L389.5,192 Q386,152 318.5,151.5 Q251,152 247.5,192Z" fill="#fff"/>
<path class="h" stroke-width="4.574" d="M249,320 L247.5,192 Q251,152 318.5,151.5 Q386,152 389.5,192 L388,320"/>
<path class="t" stroke-width="2.463" d="M249,318 Q265,336 319,336 Q373,336 388,318 M248,195 Q256,231 318.5,231.5 Q381,231 389,195"/>
<ellipse class="t" stroke-width="2.463" cx="318.3" cy="195" rx="58" ry="33"/>
<ellipse class="h" stroke-width="4.574" cx="318.3" cy="205" rx="43" ry="21"/>
<path class="l" stroke-width="2.815" d="M319,120 L319,199"/>
<!-- 87 o-ring -->
<ellipse cx="320" cy="485" rx="88" ry="50" fill="none" stroke="#111" stroke-width="10.555"/>
<!-- 86 -->
<path class="hf" stroke-width="4.574" d="M265.9,645 L266.5,816 Q280,844 319.5,845 Q359,844 372.5,816 L373.1,645 Q370,632 358,630 L358,583 Q355,563 319,563 Q283,563 280.2,583 L280.2,630 Q269,632 265.9,645Z"/>
<path class="t" stroke-width="2.463" d="M280.5,587 Q290,604 319,604 Q348,604 357.5,587 M280.5,595 Q290,612 319,612 Q348,612 357.5,595 M266,646 Q278,663 319.5,663 Q361,663 373,646"/>
<path class="l" stroke-width="2.815" d="M319,560 L319,583"/>
</g>
<!-- 62_ring85.svg -->
<g transform="translate(440,640) scale(0.33592)">
<path class="l" stroke-width="2.382" d="M330,120 L450,55 M355,215 L450,160 M395,360 L450,325 M272,160 L272,225"/>
<!-- 85 -->
<path class="hf" stroke-width="3.870" d="M213,115 L213,124 Q225,158 270,159 Q315,158 327,124 L327,115 Q325,81 270,81 Q215,81 213,115Z"/>
<path class="h" d="M213,115 Q217,149 270,150 Q323,149 327,115" stroke-width="2.977"/>
<ellipse class="t" stroke-width="2.084" cx="270" cy="116" rx="50" ry="28"/>
<path class="h" stroke-width="3.870" d="M227,116.5 Q229,138 270,138.5 Q311,138 313,116.5"/>
<path class="t" stroke-width="2.084" d="M227,116.5 Q229,95 270,94.5 Q311,95 313,116.5"/>
<path class="l" stroke-width="2.382" d="M271,68 L271,118"/>
<!-- 84 -->
<ellipse cx="270" cy="235" rx="86" ry="49" fill="none" stroke="#111" stroke-width="6.847"/>
<!-- 74 -->
<path class="hf" d="M57,411 L57,428 Q65,444 83,444 Q101,444 109,428 L109,411Z" stroke-width="4.763"/>
<ellipse class="hf" cx="83" cy="411" rx="26" ry="16" stroke-width="4.763"/>
<path class="h" stroke-width="3.870" d="M66,414 Q70,402 88,402 Q100,404 98,412 Q90,422 72,420 M82,408 L96,404"/>
<!-- 75 spring -->
<g fill="none" stroke="#111" stroke-width="5.061">
<ellipse cx="84" cy="489" rx="19" ry="8.5"/><ellipse cx="84" cy="500.5" rx="19" ry="8.5"/><ellipse cx="84" cy="512" rx="19" ry="8.5"/><ellipse cx="84" cy="523.5" rx="19" ry="8.5"/><ellipse cx="84" cy="535" rx="19" ry="8.5"/><ellipse cx="84" cy="546.5" rx="19" ry="8.5"/>
</g>
</g>
<!-- 64_body83.svg -->
<g transform="translate(470,750) scale(0.19380)">
<path class="l" stroke-width="4.128" d="M560,262 L635,215 M548,400 L635,350 M512,215 L512,262 M512,295 L512,318 M440,400 L460,390 L460,605 L230,740 L230,774"/>
<!-- body -->
<path class="hf" stroke-width="6.708" d="M422,320 L436,320 L436,385 L422,392Z"/>
<path class="hf" stroke-width="6.708" d="M210,240 L210,600 Q232,650 330,652 Q410,642 422,600 L422,240Z"/>
<!-- left curve + block -->
<path class="h" stroke-width="6.708" d="M150,515 Q132,565 172,588 Q200,600 212,585"/>
<path class="hf" stroke-width="6.708" d="M175,535 L180,560 Q200,568 215,555 L215,515Z"/>
<path class="hf" stroke-width="6.708" d="M95,438 L170,400 L250,452 L250,500 L175,540 L95,490Z"/>
<path class="h" stroke-width="6.708" d="M95,438 L175,492 L250,452 M175,492 L175,540"/>
<ellipse class="tf" stroke-width="3.612" cx="168" cy="440" rx="16" ry="9"/>
<path class="l" stroke-width="4.128" d="M170,345 L170,440 M170,545 L170,665"/>
<!-- flange -->
<path class="hf" stroke-width="6.708" d="M68,100 Q66,88 82,78 L250,-20 Q312,-52 375,-20 L540,85 Q556,96 554,110 L554,135 Q552,148 540,155 L370,268 Q315,292 262,268 L80,160 Q68,150 68,138Z"/>
<path class="h" stroke-width="6.708" d="M70,108 Q76,122 90,130 L268,232 Q315,252 362,232 L542,120 Q552,114 554,106"/>
<path class="t" stroke-width="3.612" d="M280,250 L280,280 M352,248 L352,276"/>
<ellipse class="hf" cx="112" cy="112" rx="24" ry="14" stroke-width="5.160"/><ellipse class="hf" cx="510" cy="105" rx="24" ry="14" stroke-width="5.160"/><ellipse class="hf" cx="312" cy="222" rx="22" ry="14" stroke-width="5.160"/>
<ellipse class="hf" cx="312" cy="97" rx="156" ry="94" stroke-width="4.128"/>
<path d="M156,77 L156,97 L468,97 L468,77Z" fill="#fff"/>
<ellipse cx="312" cy="77" rx="156" ry="94" fill="#fff" stroke="#222" stroke-width="5.160"/>
<path class="h" stroke-width="6.708" d="M200,12 Q312,-40 424,12"/>
<ellipse class="tf" stroke-width="3.612" cx="312" cy="75" rx="84" ry="49"/>
<path class="h" d="M228,75 Q230,121 312,122 Q394,121 396,75" stroke-width="7.740"/>
<path class="t" stroke-width="3.612" d="M234,88 Q250,56 312,55 Q374,56 390,88"/>
<path class="l" stroke-width="4.128" d="M312,-52 L312,82"/>
<!-- 82 -->
<ellipse cx="512" cy="266" rx="33" ry="18" fill="#fff" stroke="#111" stroke-width="9.804"/>
<ellipse class="t" stroke-width="3.612" cx="512" cy="268" rx="20" ry="9"/>
<!-- 81 -->
<path class="hf" stroke-width="6.708" d="M492,340 Q512,328 532,340 L532,482 L492,482Z"/>
<path class="t" stroke-width="3.612" d="M492,355 L532,355 M492,370 L532,370 M492,385 L532,385 M492,400 L532,400 M492,415 L532,415 M492,430 L532,430 M492,445 L532,445 M492,460 L532,460"/>
<path class="hf" stroke-width="6.708" d="M480,485 Q512,470 548,485 L548,512 Q512,530 480,512Z"/>
<path class="t" stroke-width="3.612" d="M480,492 Q512,508 548,492"/>
</g>
<!-- 70_yoke78.svg -->
<g transform="translate(450,870) scale(0.19380)">
<path class="l" stroke-width="4.128" d="M520,360 L600,405 M200,138 L262,105 M520,170 L640,95 M330,270 L330,120 L560,0 M335,270 L395,240 M272,0 L272,55"/>
<!-- right arm -->
<path class="hf" stroke-width="6.708" d="M392,292 L428,452 L398,592 L372,600 L362,615 L365,660 L398,675 L440,690 L300,705 Q245,690 215,620 L190,455 L160,465 L185,640 L298,735 L298,778 L325,782 L430,762 Q482,742 485,690 L478,610 L520,458 L520,358 L498,268Z"/>
<path class="t" stroke-width="3.612" d="M428,452 L470,470 L520,458 M470,470 L445,600 L478,612 M445,600 L400,592 M298,735 Q380,735 435,700 Q470,670 445,625 L400,615 L372,600 M365,660 Q405,650 400,615 M300,705 Q380,700 398,675"/>
<!-- right eye -->
<path class="hf" stroke-width="6.708" d="M345,180 Q350,165 365,158 L420,128 Q440,120 460,135 L500,175 Q525,210 515,245 Q505,265 480,275 L440,295 Q415,305 395,290 Q350,240 345,180Z"/>
<path class="t" stroke-width="3.612" d="M365,160 L440,205 Q462,240 455,288 M440,205 L500,175"/>
<ellipse class="hf" stroke-width="6.708" cx="400" cy="235" rx="21" ry="29" transform="rotate(-15 400 235)"/>
<ellipse class="hf" stroke-width="6.708" cx="488" cy="245" rx="7" ry="10"/>
<!-- left arm -->
<path class="hf" stroke-width="6.708" d="M65,350 L110,610 L230,735 L230,755 L290,778 L298,775 L298,735 L185,640 L160,465 L120,430Z"/>
<path class="t" stroke-width="3.612" d="M110,610 L150,600 M230,735 L262,690 L298,735 M150,600 L262,690"/>
<path class="hf" stroke-width="6.708" d="M65,350 Q70,325 95,315 L140,295 L150,290 L200,325 Q240,370 228,420 Q215,445 190,450 L165,465 Q140,470 120,455 Q70,410 65,350Z"/>
<path class="t" stroke-width="3.612" d="M95,315 Q150,340 172,400 Q178,440 165,465 M150,300 L195,335 M140,295 L185,330"/>
<ellipse class="hf" stroke-width="6.708" cx="122" cy="390" rx="21" ry="29" transform="rotate(-15 122 390)"/>
<ellipse class="hf" stroke-width="6.708" cx="210" cy="402" rx="9" ry="12"/>
<!-- 76 -->
<path class="hf" stroke-width="6.708" d="M250,70 Q252,55 272,55 Q292,55 292,70 L292,262 L250,262Z"/>
<path class="hf" stroke-width="6.708" d="M215,290 Q225,265 255,262 L300,268 Q335,290 330,335 Q325,365 290,372 L255,372 Q205,350 215,290Z"/>
<ellipse class="h" stroke-width="6.708" cx="255" cy="318" rx="40" ry="52" transform="rotate(-15 255 318)"/>
<ellipse class="hf" stroke-width="6.708" cx="256" cy="320" rx="23" ry="31" transform="rotate(-15 256 320)"/>
<!-- 77 -->
<path d="M148,172 L188,150" stroke="#111" stroke-width="13.416" stroke-linecap="round" fill="none"/>
<path d="M148,172 L188,150" stroke="#fff" stroke-width="5.676" stroke-linecap="round" fill="none"/>
</g>
<!-- 71_leaders7677.svg -->
<g transform="translate(420,820) scale(0.36176)">
<path class="l" stroke-width="2.211" d="M665,136 L665,212 M90,115 L225,195 M90,178 L158,222"/>
</g>
<!-- 72_lever79.svg -->
<g transform="translate(560,840) scale(0.12920)">
<path class="l" stroke-width="6.192" d="M540,205 L540,600 M655,120 L700,146"/>
<path class="hf" stroke-width="10.062" d="M95,350 Q95,320 130,300 L315,200 L600,40 Q640,25 660,60 Q675,100 650,125 L490,220 Q470,235 440,235 Q390,235 360,260 L355,300 L170,410 Q130,425 105,395 Q92,375 95,350Z"/>
<path class="h" stroke-width="10.062" d="M315,200 Q350,230 355,300"/>
<path class="t" stroke-width="5.418" d="M357,225 Q400,195 470,186 M445,140 Q482,160 490,210 M140,312 Q178,345 166,402"/>
<ellipse class="hf" stroke-width="10.062" cx="198" cy="352" rx="11" ry="18" transform="rotate(15 198 352)"/>
<ellipse class="hf" stroke-width="10.062" cx="628" cy="100" rx="13" ry="18" transform="rotate(15 628 100)"/>
<ellipse class="t" stroke-width="5.418" cx="122" cy="362" rx="12" ry="20" transform="rotate(15 122 362)"/>
<path class="l" stroke-width="6.192" d="M-60,470 L112,375"/>
</g>
<!-- 73_pin80.svg -->
<g transform="translate(600,820) scale(0.12920)">
<path class="hf" d="M412,312 Q415,298 432,298 L600,392 Q612,404 608,420 Q600,440 582,436 L412,338 Q406,325 412,312Z" stroke-width="11.610"/>
<path class="h" d="M424,318 L590,412" stroke-width="8.514"/>
<path class="t" stroke-width="5.418" d="M418,330 L584,426"/>
<ellipse class="h" cx="595" cy="416" rx="10" ry="16" stroke-width="7.740"/>
</g>
<!-- 90_labels.svg -->
<g transform="translate(0,0) scale(1.00000)">
<g style="opacity:0.999">
<text x="57.5" y="159.8" text-anchor="middle" textLength="12.3" lengthAdjust="spacingAndGlyphs">58</text>
<text x="57.5" y="186.8" text-anchor="middle" textLength="12.3" lengthAdjust="spacingAndGlyphs">59</text>
<text x="57.5" y="365.8" text-anchor="middle" textLength="12.3" lengthAdjust="spacingAndGlyphs">60</text>
<text x="378.3" y="104.0" text-anchor="middle" textLength="12.6" lengthAdjust="spacingAndGlyphs">108</text>
<text x="418.6" y="93.5" text-anchor="middle" textLength="12.6" lengthAdjust="spacingAndGlyphs">116</text>
<text x="453.8" y="113.3" text-anchor="middle" textLength="12.6" lengthAdjust="spacingAndGlyphs">115</text>
<text x="453.8" y="184.1" text-anchor="middle" textLength="12.6" lengthAdjust="spacingAndGlyphs">120</text>
<text x="415.3" y="205.7" text-anchor="middle" textLength="12.6" lengthAdjust="spacingAndGlyphs">121</text>
<text x="484.7" y="254.7" text-anchor="middle" textLength="12.6" lengthAdjust="spacingAndGlyphs">119</text>
<text x="504.8" y="243.3" text-anchor="middle" textLength="12.6" lengthAdjust="spacingAndGlyphs">118</text>
<text x="544.4" y="221.6" text-anchor="middle" textLength="12.6" lengthAdjust="spacingAndGlyphs">109</text>
<text x="609.7" y="197.9" text-anchor="middle" textLength="12.6" lengthAdjust="spacingAndGlyphs">117</text>
<text x="691.0" y="151.1" text-anchor="middle" textLength="12.3" lengthAdjust="spacingAndGlyphs">92</text>
<text x="722.1" y="133.9" text-anchor="middle" textLength="12.3" lengthAdjust="spacingAndGlyphs">91</text>
<text x="372.5" y="251.8" text-anchor="middle" textLength="12.6" lengthAdjust="spacingAndGlyphs">122</text>
<text x="499.8" y="274.4" text-anchor="middle" textLength="12.6" lengthAdjust="spacingAndGlyphs">102</text>
<text x="521.9" y="261.8" text-anchor="middle" textLength="12.6" lengthAdjust="spacingAndGlyphs">103</text>
<text x="544.4" y="248.7" text-anchor="middle" textLength="12.6" lengthAdjust="spacingAndGlyphs">106</text>
<text x="571.6" y="264.1" text-anchor="middle" textLength="12.6" lengthAdjust="spacingAndGlyphs">107</text>
<text x="524.2" y="330.2" text-anchor="middle" textLength="12.3" lengthAdjust="spacingAndGlyphs">90</text>
<text x="524.2" y="413.8" text-anchor="middle" textLength="12.3" lengthAdjust="spacingAndGlyphs">89</text>
<text x="459.8" y="408.4" text-anchor="middle" textLength="12.3" lengthAdjust="spacingAndGlyphs">94</text>
<text x="439.1" y="420.6" text-anchor="middle" textLength="12.3" lengthAdjust="spacingAndGlyphs">96</text>
<text x="417.6" y="432.9" text-anchor="middle" textLength="12.3" lengthAdjust="spacingAndGlyphs">97</text>
<text x="381.4" y="453.4" text-anchor="middle" textLength="12.3" lengthAdjust="spacingAndGlyphs">98</text>
<text x="335.3" y="480.2" text-anchor="middle" textLength="12.3" lengthAdjust="spacingAndGlyphs">99</text>
<text x="224.5" y="482.1" text-anchor="middle" textLength="12.6" lengthAdjust="spacingAndGlyphs">100</text>
<text x="601.2" y="469.8" text-anchor="middle" textLength="12.3" lengthAdjust="spacingAndGlyphs">88</text>
<text x="601.2" y="532.8" text-anchor="middle" textLength="12.3" lengthAdjust="spacingAndGlyphs">87</text>
<text x="601.2" y="599.8" text-anchor="middle" textLength="12.3" lengthAdjust="spacingAndGlyphs">86</text>
<text x="601.2" y="657.1" text-anchor="middle" textLength="12.3" lengthAdjust="spacingAndGlyphs">85</text>
<text x="601.2" y="692.5" text-anchor="middle" textLength="12.3" lengthAdjust="spacingAndGlyphs">84</text>
<text x="601.2" y="748.5" text-anchor="middle" textLength="12.3" lengthAdjust="spacingAndGlyphs">83</text>
<text x="601.4" y="790.2" text-anchor="middle" textLength="12.3" lengthAdjust="spacingAndGlyphs">82</text>
<text x="601.4" y="817.0" text-anchor="middle" textLength="12.3" lengthAdjust="spacingAndGlyphs">81</text>
<text x="443.8" y="796.1" text-anchor="middle" textLength="12.3" lengthAdjust="spacingAndGlyphs">74</text>
<text x="443.8" y="831.0" text-anchor="middle" textLength="12.3" lengthAdjust="spacingAndGlyphs">75</text>
<text x="443.8" y="861.5" text-anchor="middle" textLength="12.3" lengthAdjust="spacingAndGlyphs">76</text>
<text x="443.8" y="884.5" text-anchor="middle" textLength="12.3" lengthAdjust="spacingAndGlyphs">77</text>
<text x="629.1" y="925.0" text-anchor="middle" textLength="12.3" lengthAdjust="spacingAndGlyphs">79</text>
<text x="660.6" y="907.0" text-anchor="middle" textLength="12.3" lengthAdjust="spacingAndGlyphs">80</text>
<text x="573.9" y="956.8" text-anchor="middle" textLength="12.3" lengthAdjust="spacingAndGlyphs">78</text>
<text x="259.3" y="629.8" text-anchor="middle" textLength="12.3" lengthAdjust="spacingAndGlyphs">73</text>
<text x="259.3" y="673.0" text-anchor="middle" textLength="12.3" lengthAdjust="spacingAndGlyphs">72</text>
<text x="259.3" y="712.0" text-anchor="middle" textLength="12.3" lengthAdjust="spacingAndGlyphs">71</text>
<text x="259.3" y="750.2" text-anchor="middle" textLength="12.3" lengthAdjust="spacingAndGlyphs">70</text>
<text x="259.3" y="920.0" text-anchor="middle" textLength="12.3" lengthAdjust="spacingAndGlyphs">69</text>
<text x="259.3" y="973.2" text-anchor="middle" textLength="12.3" lengthAdjust="spacingAndGlyphs">68</text>
<text x="259.3" y="1033.5" text-anchor="middle" textLength="12.3" lengthAdjust="spacingAndGlyphs">67</text>
<text x="56.4" y="685.2" text-anchor="middle" textLength="12.3" lengthAdjust="spacingAndGlyphs">61</text>
<text x="56.4" y="766.2" text-anchor="middle" textLength="12.3" lengthAdjust="spacingAndGlyphs">62</text>
<text x="56.4" y="807.5" text-anchor="middle" textLength="12.3" lengthAdjust="spacingAndGlyphs">63</text>
<text x="56.4" y="853.5" text-anchor="middle" textLength="12.3" lengthAdjust="spacingAndGlyphs">64</text>
<text x="56.4" y="945.8" text-anchor="middle" textLength="12.3" lengthAdjust="spacingAndGlyphs">65</text>
<text x="56.4" y="1004.8" text-anchor="middle" textLength="12.3" lengthAdjust="spacingAndGlyphs">66</text>
</g>
<path class="k" d="M334.0,544.3 L354.0,532.7 L374.0,544.3 L354.0,555.9 Z"/>
<text transform="matrix(1.070,-0.603,1.338,0.700,362.9,549.5)" text-anchor="middle" style="font-size:20px;fill:#fff;stroke:#fff;stroke-width:0.45px">A</text>
<path class="k" d="M122.3,1036.8 L142.3,1025.2 L162.3,1036.8 L142.3,1048.4 Z"/>
<text transform="matrix(1.070,-0.603,1.338,0.700,151.2,1042.0)" text-anchor="middle" style="font-size:20px;fill:#fff;stroke:#fff;stroke-width:0.45px">A</text>
<path class="k" d="M512.0,444.2 L530.7,433.6 L549.4,444.2 L530.7,454.8 Z"/>
<text transform="matrix(1.070,-0.603,1.338,0.700,539.6,449.4)" text-anchor="middle" style="font-size:20px;fill:#fff;stroke:#fff;stroke-width:0.45px">B</text>
<path class="k" d="M336.3,1037.0 L355.0,1026.4 L373.7,1037.0 L355.0,1047.6 Z"/>
<text transform="matrix(1.070,-0.603,1.338,0.700,363.9,1042.2)" text-anchor="middle" style="font-size:20px;fill:#fff;stroke:#fff;stroke-width:0.45px">B</text>
<path class="l" stroke-width="0.800" d="M343.4,197.5 L484.3,279.4 L455.8,296.5"/>
<path class="l" stroke-width="0.800" d="M65.5,678.1 L131.5,640.8 M65.5,759.1 L128.3,722.6 M65.5,801.1 L76.5,795.7"/>
<path class="l" stroke-width="0.800" d="M450.7,787.8 L459.1,783.9 M450.7,823.3 L461.7,817.5 M468.1,789.5 L468.1,799 M468.1,830.5 L468.1,835.2 L502.4,816.6 L502.4,832 M269.6,1026.3 L328,993.3"/>
</g>
</svg>
</body></html>
